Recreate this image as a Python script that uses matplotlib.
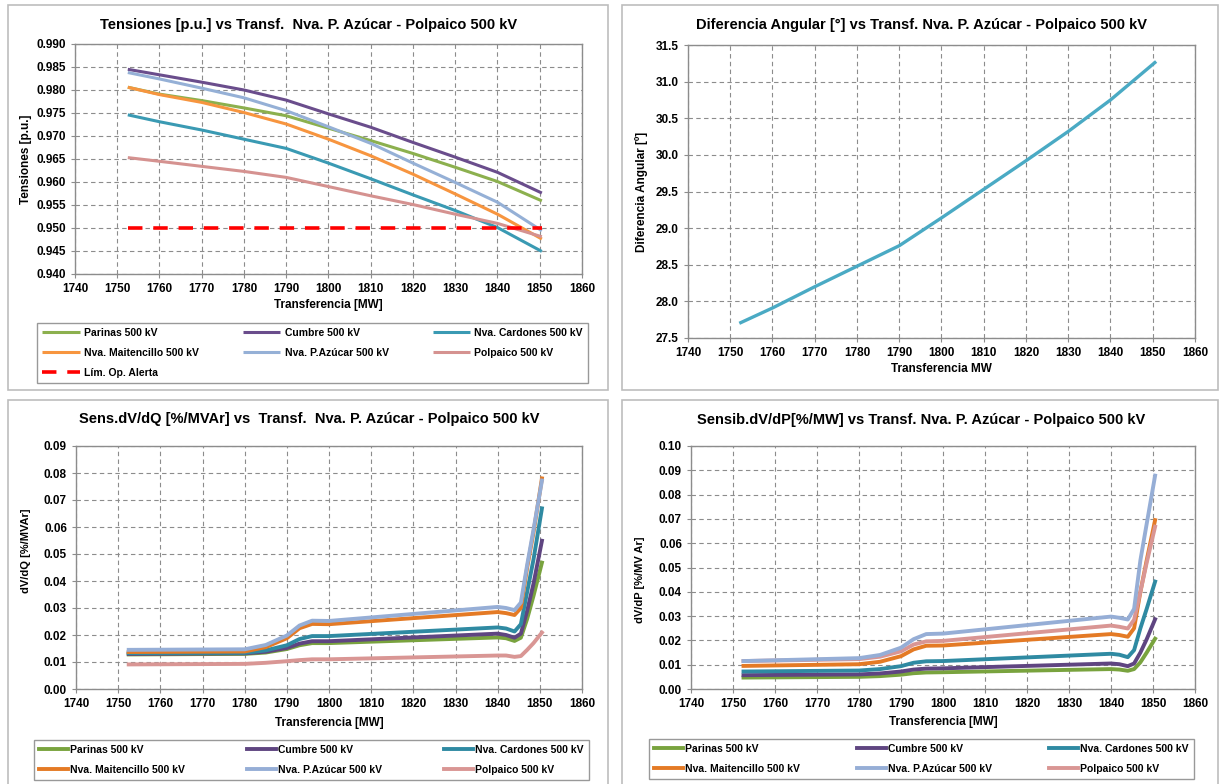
import matplotlib
matplotlib.use("Agg")
import matplotlib.pyplot as plt
from matplotlib.patches import Rectangle
from matplotlib.ticker import MultipleLocator, FormatStrFormatter

plt.rcParams['font.family'] = ['Liberation Sans', 'DejaVu Sans']
plt.rcParams['font.weight'] = 'bold'

W, H = 1221, 784

# ---------------- data ----------------
buses = ["Parinas 500 kV", "Cumbre 500 kV", "Nva. Cardones 500 kV",
         "Nva. Maitencillo 500 kV", "Nva. P.Azúcar 500 kV", "Polpaico 500 kV"]

# Voltages [p.u.]
x_volt = [1752.5, 1760, 1770, 1780, 1790, 1800, 1810, 1820, 1830, 1840, 1850.5]
v_parinas = [0.9806, 0.9791, 0.9777, 0.9761, 0.9744, 0.9717, 0.9690, 0.9662, 0.9632, 0.9601, 0.9559]
v_cumbre = [0.9845, 0.9833, 0.9817, 0.9800, 0.9778, 0.9748, 0.9719, 0.9686, 0.9654, 0.9621, 0.9576]
v_cardones = [0.9746, 0.9731, 0.9713, 0.9693, 0.9673, 0.9641, 0.9607, 0.9572, 0.9538, 0.9501, 0.9449]
v_maitencillo = [0.9806, 0.9790, 0.9773, 0.9751, 0.9726, 0.9693, 0.9657, 0.9617, 0.9574, 0.9530, 0.9476]
v_pazucar = [0.9838, 0.9824, 0.9804, 0.9783, 0.9755, 0.9720, 0.9684, 0.9641, 0.9599, 0.9556, 0.9494]
v_polpaico = [0.9653, 0.9645, 0.9634, 0.9623, 0.9610, 0.9590, 0.9570, 0.9551, 0.9530, 0.9510, 0.9481]
alert_limit = 0.950

# Angular difference [deg]
x_ang = [1752.5, 1760, 1770, 1780, 1790, 1800, 1810, 1820, 1830, 1840, 1850.5]
ang_diff = [27.71, 27.91, 28.20, 28.48, 28.76, 29.14, 29.53, 29.92, 30.32, 30.75, 31.26]

# Sensitivities
x_sens = [1752.5, 1780, 1785, 1790, 1793, 1796, 1800, 1840, 1842, 1844, 1845.5, 1847, 1848.5, 1850.5]
dq_parinas = [0.0128, 0.0130, 0.0135, 0.0148, 0.0162, 0.0170, 0.0170, 0.0191, 0.0188, 0.0178, 0.0190, 0.0260, 0.0345, 0.0468]
dq_cumbre = [0.0130, 0.0132, 0.0138, 0.0152, 0.0168, 0.0177, 0.0177, 0.0205, 0.0200, 0.0190, 0.0205, 0.0290, 0.0390, 0.0549]
dq_cardones = [0.0133, 0.0134, 0.0143, 0.0162, 0.0185, 0.0196, 0.0196, 0.0228, 0.0224, 0.0213, 0.0240, 0.0360, 0.0480, 0.0669]
dq_maitencillo = [0.0137, 0.0139, 0.0155, 0.0188, 0.0225, 0.0241, 0.0240, 0.0285, 0.0281, 0.0274, 0.0300, 0.0450, 0.0580, 0.0780]
dq_pazucar = [0.0145, 0.0147, 0.0163, 0.0198, 0.0235, 0.0253, 0.0252, 0.0304, 0.0300, 0.0292, 0.0320, 0.0460, 0.0590, 0.0772]
dq_polpaico = [0.0091, 0.0093, 0.0097, 0.0103, 0.0107, 0.0110, 0.0110, 0.0124, 0.0124, 0.0119, 0.0122, 0.0145, 0.0170, 0.0209]

dp_parinas = [0.0047, 0.0050, 0.0053, 0.0059, 0.0065, 0.0068, 0.0069, 0.0082, 0.0080, 0.0075, 0.0082, 0.0110, 0.0150, 0.0207]
dp_cumbre = [0.0057, 0.0060, 0.0064, 0.0072, 0.0080, 0.0084, 0.0085, 0.0105, 0.0102, 0.0094, 0.0105, 0.0150, 0.0205, 0.0287]
dp_cardones = [0.0072, 0.0076, 0.0082, 0.0094, 0.0108, 0.0114, 0.0115, 0.0145, 0.0141, 0.0131, 0.0160, 0.0250, 0.0330, 0.0442]
dp_maitencillo = [0.0095, 0.0102, 0.0112, 0.0135, 0.0163, 0.0178, 0.0179, 0.0226, 0.0222, 0.0215, 0.0250, 0.0400, 0.0530, 0.0695]
dp_pazucar = [0.0115, 0.0127, 0.0140, 0.0170, 0.0205, 0.0226, 0.0228, 0.0298, 0.0293, 0.0286, 0.0330, 0.0530, 0.0680, 0.0878]
dp_polpaico = [0.0115, 0.0123, 0.0133, 0.0155, 0.0183, 0.0196, 0.0198, 0.0261, 0.0256, 0.0249, 0.0285, 0.0400, 0.0520, 0.0668]

# ---------------- styles ----------------
col_top = ["#8CB04E", "#6A4D8C", "#3A9AB3", "#F7953F", "#95B0D6", "#D59290"]
col_bot = ["#79A33E", "#5F4581", "#2F8AA2", "#E47A25", "#96AED6", "#D99694"]
GRID = "#8c8c8c"
SPINE = "#8c8c8c"
BORDER = "#bdbdbd"
TITLE_SIZE = 10.5
LABEL_SIZE = 8.5
TICK_SIZE = 8.5
LEGEND_SIZE = 7.5

fig = plt.figure(figsize=(W / 100, H / 100), dpi=100)
fig.patch.set_facecolor("white")


def fx(px):
    return px / W


def fy(py):
    return 1 - py / H


def panel(x0, y0, x1, y1):
    fig.patches.append(Rectangle((fx(x0), fy(y1)), fx(x1 - x0), (y1 - y0) / H,
                                 transform=fig.transFigure, fill=False,
                                 edgecolor=BORDER, lw=1.2))


def make_axes(x0, y0, x1, y1):
    ax = fig.add_axes([fx(x0), fy(y1), fx(x1 - x0), (y1 - y0) / H])
    for s in ax.spines.values():
        s.set_color(SPINE)
        s.set_linewidth(1.0)
    ax.grid(True, color=GRID, linestyle=(0, (4, 3)), linewidth=0.8)
    ax.set_axisbelow(True)
    ax.tick_params(axis="both", labelsize=TICK_SIZE, color=SPINE, length=3, width=0.8)
    ax.set_xlim(1740, 1860)
    ax.xaxis.set_major_locator(MultipleLocator(10))
    return ax


def finish_ticks(ax):
    for lab in ax.get_xticklabels() + ax.get_yticklabels():
        lab.set_fontweight("bold")


def sens_legend(handles, box):
    x0, y0, x1, y1 = box
    leg = fig.legend(handles, [h.get_label() for h in handles],
                     loc="lower left", bbox_to_anchor=(fx(x0), fy(y1), fx(x1 - x0), (y1 - y0) / H),
                     bbox_transform=fig.transFigure, mode="expand", ncol=3,
                     frameon=True, fancybox=False, edgecolor="#808080", handlelength=2.8,
                     handletextpad=0.2, labelspacing=0.95, borderaxespad=0, borderpad=0.5,
                     prop={"weight": "bold", "size": LEGEND_SIZE})
    leg.get_frame().set_linewidth(1.0)
    return leg


# panel frames
panel(8, 5, 608, 390)
panel(622, 5, 1218, 390)
panel(8, 400, 608, 790)
panel(622, 400, 1218, 790)

# ---------------- Voltages ----------------
ax1 = make_axes(75, 44, 582, 274)
volt_series = [v_parinas, v_cumbre, v_cardones, v_maitencillo, v_pazucar, v_polpaico]
lines1 = []
for name, vals, c in zip(buses, volt_series, col_top):
    ln, = ax1.plot(x_volt, vals, color=c, lw=2.2, label=name, solid_capstyle="butt")
    lines1.append(ln)
lim_line, = ax1.plot([x_volt[0], x_volt[-1]], [alert_limit, alert_limit], color="#FF0000",
                     lw=2.6, linestyle=(0, (4, 3)), label="Lím. Op. Alerta")
ax1.set_ylim(0.940, 0.990)
ax1.yaxis.set_major_locator(MultipleLocator(0.005))
ax1.yaxis.set_major_formatter(FormatStrFormatter("%.3f"))
finish_ticks(ax1)
ax1.set_ylabel("Tensiones [p.u.]", fontsize=LABEL_SIZE, fontweight="bold", labelpad=3)
ax1.text(0.5, -0.135, "Transferencia [MW]", transform=ax1.transAxes, ha="center",
         va="center", fontsize=LABEL_SIZE, fontweight="bold")
fig.text(fx(309), fy(25), "Tensiones [p.u.] vs Transf.  Nva. P. Azúcar - Polpaico 500 kV",
         ha="center", va="center", fontsize=TITLE_SIZE, fontweight="bold")

order = [0, 3, 6, 1, 4, 2, 5]
all1 = lines1 + [lim_line]
leg1 = fig.legend([all1[i] for i in order], [all1[i].get_label() for i in order],
                  loc="lower left", bbox_to_anchor=(fx(37), fy(383), fx(588 - 37), (383 - 322) / H),
                  bbox_transform=fig.transFigure, mode="expand", ncol=3,
                  frameon=True, fancybox=False, edgecolor="#808080", handlelength=3.6,
                  handletextpad=0.4, labelspacing=0.95, borderaxespad=0, borderpad=0.5,
                  prop={"weight": "bold", "size": LEGEND_SIZE})
leg1.get_frame().set_linewidth(1.0)

# ---------------- Angular difference ----------------
ax2 = make_axes(688, 45, 1195, 338)
ax2.plot(x_ang, ang_diff, color="#4AAAC4", lw=2.4)
ax2.set_ylim(27.5, 31.5)
ax2.yaxis.set_major_locator(MultipleLocator(0.5))
ax2.yaxis.set_major_formatter(FormatStrFormatter("%.1f"))
finish_ticks(ax2)
ax2.set_ylabel("Diferencia Angular [º]", fontsize=LABEL_SIZE, fontweight="bold", labelpad=6)
ax2.text(0.5, -0.106, "Transferencia MW", transform=ax2.transAxes, ha="center",
         va="center", fontsize=LABEL_SIZE, fontweight="bold")
fig.text(fx(921), fy(25), "Diferencia Angular [°] vs Transf. Nva. P. Azúcar - Polpaico 500 kV",
         ha="center", va="center", fontsize=TITLE_SIZE, fontweight="bold")

# ---------------- dV/dQ ----------------
ax3 = make_axes(76, 446, 582, 689)
dq_series = [dq_parinas, dq_cumbre, dq_cardones, dq_maitencillo, dq_pazucar, dq_polpaico]
lines3 = []
for name, vals, c in zip(buses, dq_series, col_bot):
    ln, = ax3.plot(x_sens, vals, color=c, lw=2.8, label=name)
    lines3.append(ln)
ax3.set_ylim(0, 0.09)
ax3.yaxis.set_major_locator(MultipleLocator(0.01))
ax3.yaxis.set_major_formatter(FormatStrFormatter("%.2f"))
finish_ticks(ax3)
ax3.set_ylabel("dV/dQ [%/MVAr]", fontsize=8, fontweight="bold")
ax3.yaxis.set_label_coords(-0.088, 0.57)
ax3.text(0.5, -0.14, "Transferencia [MW]", transform=ax3.transAxes, ha="center",
         va="center", fontsize=LABEL_SIZE, fontweight="bold")
fig.text(fx(309), fy(419), "Sens.dV/dQ [%/MVAr] vs  Transf.  Nva. P. Azúcar - Polpaico 500 kV",
         ha="center", va="center", fontsize=TITLE_SIZE, fontweight="bold")

order6 = [0, 3, 1, 4, 2, 5]
sens_legend([lines3[i] for i in order6], (34, 738, 589, 780))

# ---------------- dV/dP ----------------
ax4 = make_axes(691, 446, 1195, 689)
dp_series = [dp_parinas, dp_cumbre, dp_cardones, dp_maitencillo, dp_pazucar, dp_polpaico]
draw_order = [0, 1, 2, 3, 5, 4]
lines4 = [None] * 6
for i in draw_order:
    ln, = ax4.plot(x_sens, dp_series[i], color=col_bot[i], lw=2.8, label=buses[i])
    lines4[i] = ln
ax4.set_ylim(0, 0.10)
ax4.yaxis.set_major_locator(MultipleLocator(0.01))
ax4.yaxis.set_major_formatter(FormatStrFormatter("%.2f"))
finish_ticks(ax4)
ax4.set_ylabel("dV/dP [%/MV Ar]", fontsize=8, fontweight="bold")
ax4.yaxis.set_label_coords(-0.091, 0.45)
ax4.text(0.5, -0.136, "Transferencia [MW]", transform=ax4.transAxes, ha="center",
         va="center", fontsize=LABEL_SIZE, fontweight="bold")
fig.text(fx(921), fy(420), "Sensib.dV/dP[%/MW] vs Transf. Nva. P. Azúcar - Polpaico 500 kV",
         ha="center", va="center", fontsize=TITLE_SIZE, fontweight="bold")

sens_legend([lines4[i] for i in order6], (649, 738, 1194, 779))

fig.savefig("out.png", dpi=100)
